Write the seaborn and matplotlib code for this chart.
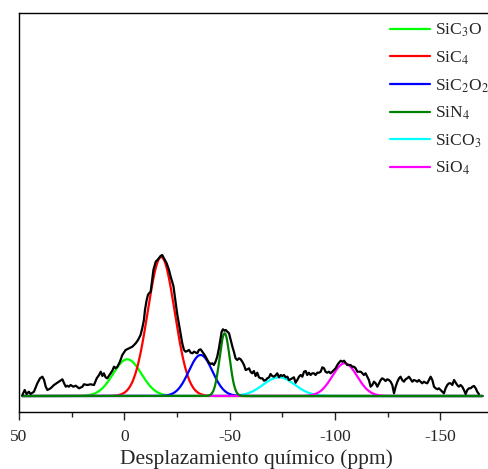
import numpy as np
import pandas as pd
import matplotlib
matplotlib.use("Agg")
import matplotlib.pyplot as plt
from matplotlib.ticker import MultipleLocator
import seaborn as sns

# Experimental 29Si NMR spectrum (chemical shift in ppm, intensity in a.u.)
shift_ppm = [
    48.4, 47.3, 46.4, 45.3, 44.5, 42.9, 41.3, 40.0, 38.9, 38.1, 37.3, 36.5, 35.0, 33.4,
    31.8, 30.5, 29.4, 28.6, 27.8, 27.1, 26.3, 25.5, 24.2, 23.1, 21.5, 19.9, 19.2, 17.6,
    16.0, 14.4, 13.1, 12.0, 11.2, 10.4, 9.7, 8.9, 8.1, 6.5, 5.7, 4.9, 4.1, 3.3, 2.1,
    0.96, -0.6, -2.2, -3.8, -5.4, -6.5, -7.7, -8.5, -9.3, -9.8, -10.6, -11.2, -11.7,
    -12.5, -13.0, -13.8, -14.9, -16.0, -17.2, -18.0, -18.8, -20.1, -21.2, -22.0, -23.3,
    -25.1, -26.7, -27.5, -28.3, -29.1, -29.9, -30.7, -31.5, -32.3, -33.1, -34.6, -35.4,
    -36.2, -37.0, -37.8, -38.6, -39.4, -40.2, -41.0, -41.8, -42.5, -43.3, -44.1, -44.9,
    -45.7, -46.2, -46.8, -47.5, -48.1, -48.9, -49.7, -50.5, -51.3, -52.0, -52.8, -53.6,
    -54.4, -55.2, -56.0, -56.8, -57.6, -58.4, -59.2, -59.9, -60.7, -61.5, -62.3, -63.1,
    -63.9, -64.7, -65.5, -66.3, -67.1, -67.9, -68.7, -69.4, -70.2, -71.0, -71.8, -72.6,
    -73.4, -74.2, -75.0, -75.8, -76.6, -77.4, -78.1, -78.9, -79.7, -80.5, -81.3, -82.1,
    -82.9, -83.7, -84.5, -85.3, -86.1, -86.8, -87.6, -88.4, -89.2, -90.0, -90.8, -91.6,
    -92.4, -93.2, -94.0, -94.8, -95.5, -96.3, -97.1, -97.9, -98.7, -99.5, -100.3,
    -101.1, -101.9, -102.7, -103.5, -104.3, -105.0, -105.8, -106.6, -107.4, -108.2,
    -109.0, -109.8, -110.6, -111.4, -112.2, -113.0, -113.7, -114.5, -115.3, -116.1,
    -116.9, -117.7, -118.5, -119.3, -120.1, -120.9, -121.7, -122.4, -123.2, -124.0,
    -124.8, -125.6, -126.4, -127.2, -128.0, -128.8, -129.6, -130.4, -131.1, -131.9,
    -132.7, -133.5, -134.3, -135.1, -135.9, -136.7, -137.5, -138.3, -139.1, -139.8,
    -140.6, -141.4, -142.2, -143.0, -143.8, -144.6, -145.4, -146.2, -147.0, -147.8,
    -148.6, -149.3, -150.1, -150.9, -151.7, -152.5, -153.3, -154.1, -154.9, -155.7,
    -156.5, -157.3, -158.0, -158.8, -159.6, -160.4, -161.2, -162.0, -162.8, -163.6,
    -164.4, -165.2, -166.0, -166.8, -167.5, -168.3,
]
intensity = [
    1.0, 6.0, 2.0, 4.3, 2.0, 4.3, 12.7, 17.7, 19.3, 16.0, 9.3, 6.0, 7.7, 11.0,
    13.3, 15.3, 16.7, 12.7, 9.3, 10.3, 9.3, 11.0, 9.3, 10.3, 7.7, 9.3, 11.7, 11.0,
    11.7, 11.0, 17.7, 21.0, 24.3, 20.0, 22.7, 18.7, 17.7, 22.7, 25.3, 29.3, 27.7, 29.3, 34.3,
    41.0, 46.0, 47.7, 49.3, 52.7, 56.0, 61.0, 67.7, 76.0, 86.0, 96.0, 101.0, 102.7,
    104.3, 112.7, 126.0, 134.3, 136.7, 140.0, 141.0, 137.7, 132.7, 126.0, 119.3, 110.0,
    82.0, 62.7, 52.7, 46.0, 44.3, 45.0, 46.0, 43.3, 42.7, 44.3, 42.7, 46.0,
    46.7, 44.3, 42.0, 39.3, 36.0, 33.3, 32.0, 32.7, 31.0, 34.3, 39.3, 47.7,
    57.7, 64.3, 66.7, 65.3, 66.0, 64.3, 62.7, 56.0, 49.3, 44.3, 37.7, 36.0,
    37.7, 36.7, 34.3, 31.0, 26.0, 26.7, 27.7, 24.3, 22.7, 25.0, 20.0, 23.3,
    18.7, 17.7, 17.7, 15.3, 16.0, 17.7, 18.7, 22.0, 20.0, 19.3, 20.7, 22.7,
    18.7, 21.0, 20.0, 21.0, 18.7, 19.3, 16.0, 16.7, 17.7, 18.7, 13.3, 16.0,
    19.3, 21.0, 19.3, 24.3, 25.0, 21.0, 23.3, 21.0, 22.7, 22.7, 21.0, 23.3,
    23.3, 24.3, 28.7, 27.7, 24.3, 23.3, 24.3, 22.7, 24.3, 26.0, 27.7,
    31.0, 33.3, 35.3, 34.3, 35.3, 33.3, 31.0, 31.0, 31.0, 29.3,
    29.3, 27.7, 24.3, 24.3, 24.3, 22.7, 21.0, 22.7, 19.3, 16.0,
    9.3, 11.0, 14.3, 12.7, 9.3, 12.7, 16.0, 17.7, 16.7, 15.0,
    16.7, 16.0, 14.3, 11.0, 2.7, 9.3, 14.3, 17.7, 19.3, 16.0,
    14.3, 16.7, 17.7, 19.3, 16.7, 14.3, 16.0, 15.3, 14.3, 16.0,
    14.3, 12.7, 14.3, 13.3, 12.7, 16.0, 19.3, 16.0, 9.3, 7.7,
    6.7, 7.7, 6.0, 4.3, 2.7, 7.7, 11.0, 12.7, 12.7, 11.0,
    16.0, 13.3, 11.0, 9.3, 11.0, 9.3, 6.0, 2.0, 6.0, 7.7,
    7.7, 9.3, 10.0, 7.7, 4.3, 2.0,
]

# Gaussian deconvolution components
species = ["SiC$_3$O", "SiC$_4$", "SiC$_2$O$_2$", "SiN$_4$", "SiCO$_3$", "SiO$_4$"]
centers = [-1.4, -17.5, -36.2, -47.6, -73.4, -104.6]
heights = [36.7, 139.0, 41.0, 62.7, 18.7, 32.7]
sigmas = [6.7, 6.4, 5.6, 2.4, 7.5, 5.9]
colors = ["#00ff00", "#ff0000", "#0000ff", "#008000", "#00ffff", "#ff00ff"]
draw_order = [0, 1, 4, 2, 5, 3]

sns.set_style("ticks")
plt.rcParams["font.family"] = ["Liberation Serif", "DejaVu Serif"]
plt.rcParams["mathtext.fontset"] = "stix"
plt.rcParams["axes.unicode_minus"] = False

fig = plt.figure(figsize=(4.89, 4.69), dpi=100)
ax = fig.add_axes([19 / 489, 1 - 412 / 469, 474 / 489, 399 / 469])

spec = pd.DataFrame({"ppm": shift_ppm, "I": intensity})
sns.lineplot(data=spec, x="ppm", y="I", ax=ax, color="black", lw=1.6,
             sort=False, zorder=10, legend=False)

grid = np.linspace(48.5, -170.0, 1500)
for i in draw_order:
    y = heights[i] * np.exp(-0.5 * ((grid - centers[i]) / sigmas[i]) ** 2)
    sns.lineplot(x=grid, y=y, ax=ax, color=colors[i], lw=1.6, sort=False,
                 zorder=3 + draw_order.index(i), label=species[i])

h, l = ax.get_legend_handles_labels()
lookup = dict(zip(l, h))
ax.legend([lookup[s] for s in species], species, loc="upper left",
          bbox_to_anchor=(390 / 489, 1 - 22 / 469), bbox_transform=fig.transFigure,
          frameon=False, fontsize=12.6, borderpad=0, borderaxespad=0,
          handlelength=2.3, handletextpad=0.25, labelspacing=0.58)

ax.set_xlim(50, -175)
ax.set_ylim(-16, 383)
ax.xaxis.set_major_locator(MultipleLocator(50))
ax.xaxis.set_minor_locator(MultipleLocator(25))
ax.tick_params(axis="x", which="major", length=6, width=1, direction="out",
               labelsize=12.5, pad=6, top=False)
ax.tick_params(axis="x", which="minor", length=3.5, width=1, direction="out", top=False)
ax.set_yticks([])
ax.set_xlabel("Desplazamiento químico (ppm)", fontsize=15.5, labelpad=3)
ax.set_ylabel("")
for s in ax.spines.values():
    s.set_linewidth(1.0)
    s.set_color("black")

fig.savefig("out.png", dpi=100)
